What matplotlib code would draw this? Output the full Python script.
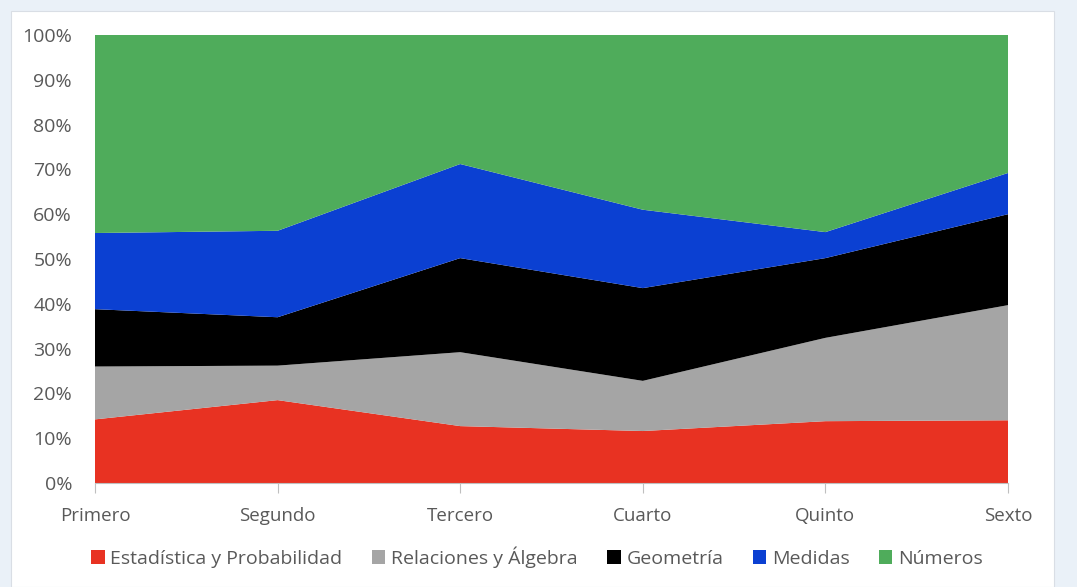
import numpy as np
import matplotlib.pyplot as plt
from matplotlib.patches import Patch, Rectangle

grados = ['Primero', 'Segundo', 'Tercero', 'Cuarto', 'Quinto', 'Sexto']
series = ['Estadística y Probabilidad', 'Relaciones y Álgebra', 'Geometría', 'Medidas', 'Números']
estadistica = [14.2, 18.5, 12.7, 11.6, 13.8, 14.0]
relaciones = [11.8, 7.7, 16.5, 11.2, 18.6, 25.7]
geometria = [12.8, 10.8, 21.0, 20.7, 17.8, 20.3]
medidas = [17.0, 19.3, 21.0, 17.5, 5.8, 9.2]
numeros = [44.2, 43.7, 28.8, 39.0, 44.0, 30.8]
colores = ['#E83222', '#A5A5A5', '#000000', '#0B40D2', '#4FAC5B']

datos = np.array([estadistica, relaciones, geometria, medidas, numeros])
datos = datos / datos.sum(axis=0) * 100

fig = plt.figure(figsize=(10.77, 5.87), dpi=100, facecolor='#EAF1F8')
# marco blanco del grafico
fig.patches.append(Rectangle((11 / 1077, 0), 1043 / 1077, 576 / 587, transform=fig.transFigure,
                             facecolor='white', edgecolor='#D9DEE5', linewidth=0.8, zorder=-10))

ax = fig.add_axes([95 / 1077, 104 / 587, 913 / 1077, 448 / 587])
ax.set_facecolor('none')
x = np.arange(len(grados))
ax.stackplot(x, datos, colors=colores, linewidth=0)

ax.set_xlim(0, len(grados) - 1)
ax.set_ylim(0, 100)
ax.set_yticks(np.arange(0, 101, 10))
ax.set_yticklabels([f'{v}%' for v in range(0, 101, 10)])
ax.set_xticks(x)
ax.set_xticklabels(grados)
ax.axhline(100, color='#BFBFBF', linewidth=0.8, zorder=0)

for s in ['top', 'right', 'left']:
    ax.spines[s].set_visible(False)
ax.spines['bottom'].set_color('#BFBFBF')
ax.tick_params(axis='y', length=0, pad=16.5, labelsize=14, labelcolor='#595959')
ax.tick_params(axis='x', length=7, width=0.8, color='#BFBFBF', pad=10, labelsize=13.5, labelcolor='#595959')
for t in ax.get_xticklabels() + ax.get_yticklabels():
    t.set_fontfamily('Open Sans')

handles = [Patch(facecolor=c, edgecolor='none') for c in colores]
fig.legend(handles, series, loc='center', bbox_to_anchor=(537 / 1077, 1 - 557 / 587), ncol=5,
           frameon=False, handlelength=0.7, handleheight=0.7, handletextpad=0.3, columnspacing=1.5,
           prop={'family': 'Open Sans', 'size': 14}, labelcolor='#595959')

fig.savefig('out.png', dpi=100, facecolor=fig.get_facecolor())
